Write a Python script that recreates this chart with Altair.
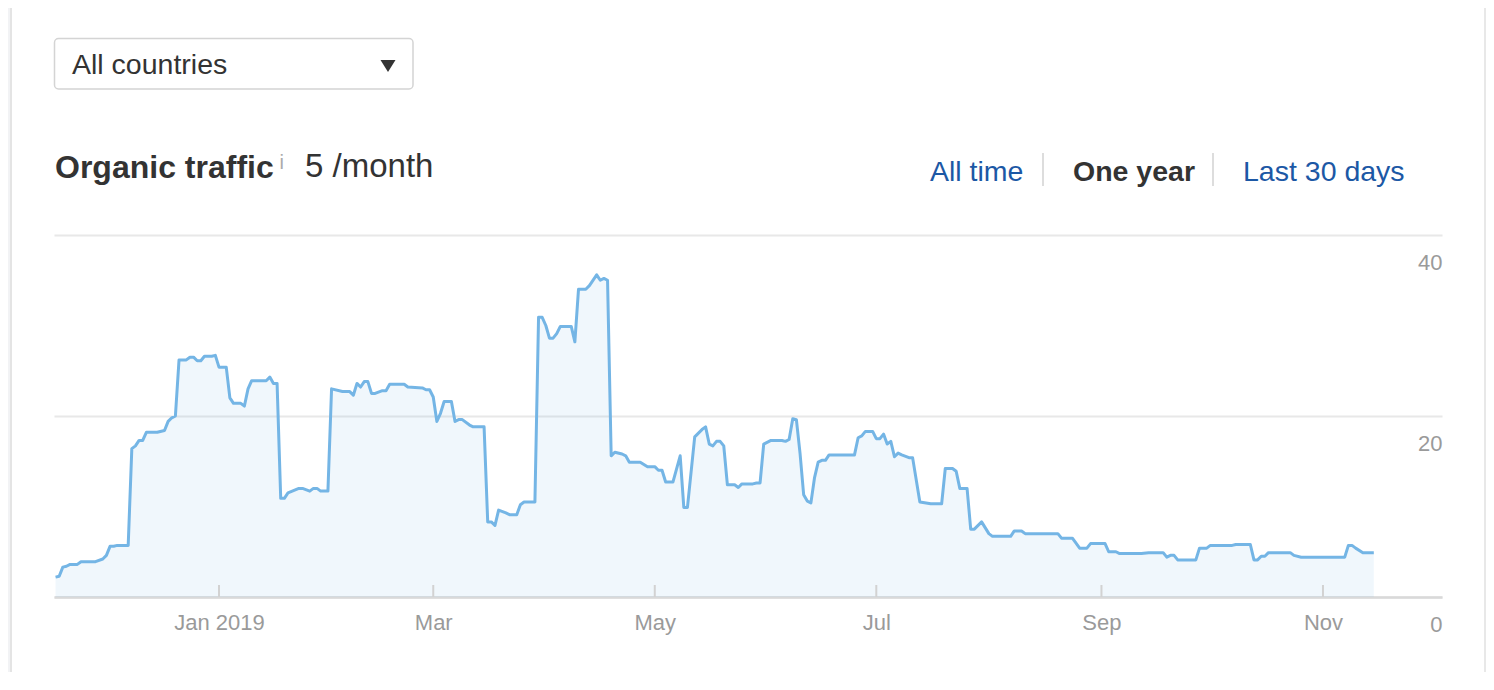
import datetime as dt
import altair as alt
import pandas as pd

# ---- data: day offset from 2019-01-01 and organic traffic ----
DAY = [
    -45, -44, -43, -42, -41, -39, -38, -34, -32, -31,
    -30, -29, -28, -25, -24, -23, -22, -21, -20, -17,
    -15, -14, -13, -12, -11, -9, -8, -7, -6, -5,
    -4, -2, -1, 0, 2, 3, 4, 6, 7, 8,
    9, 13, 14, 15, 16, 17, 18, 19, 22, 23,
    25, 26, 27, 28, 30, 31, 34, 36, 37, 38,
    39, 40, 41, 42, 43, 45, 46, 47, 51, 52,
    56, 57, 58, 59, 60, 61, 62, 64, 65, 66,
    67, 69, 70, 73, 74, 75, 76, 77, 79, 80,
    82, 83, 84, 87, 88, 89, 90, 91, 92, 93,
    94, 97, 98, 99, 101, 102, 104, 105, 106, 107,
    108, 109, 111, 112, 113, 116, 118, 120, 121, 122,
    123, 125, 127, 128, 129, 131, 133, 134, 135, 136,
    137, 138, 139, 140, 142, 143, 144, 147, 148, 149,
    150, 152, 155, 156, 157, 158, 159, 160, 161, 162,
    163, 164, 165, 166, 167, 168, 175, 176, 177, 178,
    180, 181, 182, 183, 184, 185, 186, 187, 188, 190,
    191, 193, 196, 199, 200, 202, 203, 204, 206, 207,
    208, 210, 212, 213, 218, 219, 221, 222, 231, 232,
    235, 237, 239, 240, 244, 245, 247, 248, 254, 256,
    260, 261, 262, 263, 264, 269, 270, 272, 273, 279,
    280, 284, 285, 286, 287, 288, 289, 295, 296, 298,
    310, 311, 312, 313, 315, 318,
]
VALUE = [
    2.2, 2.3, 3.3, 3.4, 3.6, 3.6, 3.9, 3.9, 4.2, 4.6,
    5.6, 5.6, 5.7, 5.7, 16.4, 16.7, 17.3, 17.3, 18.2, 18.2,
    18.4, 19.4, 19.8, 20.0, 26.2, 26.2, 26.5, 26.5, 26.1, 26.1,
    26.6, 26.6, 26.7, 25.4, 25.4, 22.0, 21.4, 21.4, 21.1, 23.0,
    23.9, 23.9, 24.3, 23.6, 23.6, 10.9, 10.9, 11.5, 12.0, 12.0,
    11.7, 12.0, 12.0, 11.7, 11.7, 23.0, 22.7, 22.7, 22.3, 23.6,
    23.2, 23.8, 23.8, 22.5, 22.5, 22.8, 22.8, 23.5, 23.5, 23.2,
    23.1, 22.9, 22.9, 22.1, 19.4, 20.3, 21.6, 21.6, 19.4, 19.6,
    19.6, 19.0, 18.8, 18.8, 8.3, 8.3, 7.9, 9.6, 9.3, 9.1,
    9.1, 10.2, 10.5, 10.5, 30.9, 30.9, 30.0, 28.6, 28.6, 29.1,
    29.9, 29.9, 28.2, 34.0, 34.0, 34.4, 35.6, 35.0, 35.2, 35.0,
    15.6, 16.0, 15.8, 15.6, 14.9, 14.9, 14.4, 14.4, 14.0, 14.0,
    12.7, 12.7, 15.6, 9.9, 9.9, 17.7, 18.5, 18.8, 16.9, 16.7,
    17.2, 17.2, 16.7, 12.4, 12.4, 12.1, 12.5, 12.5, 12.6, 12.6,
    16.9, 17.3, 17.3, 17.2, 17.4, 19.7, 19.6, 15.9, 11.3, 10.6,
    10.4, 13.2, 14.9, 15.1, 15.1, 15.7, 15.7, 17.6, 17.8, 18.3,
    18.3, 17.5, 17.5, 18.0, 16.9, 17.2, 15.5, 15.9, 15.7, 15.4,
    15.4, 10.5, 10.3, 10.3, 14.2, 14.2, 13.9, 12.0, 12.0, 7.5,
    7.5, 8.3, 7.0, 6.7, 6.7, 7.3, 7.3, 7.0, 7.0, 6.5,
    6.5, 5.4, 5.4, 5.9, 5.9, 5.0, 5.0, 4.8, 4.8, 4.9,
    4.9, 4.4, 4.6, 4.6, 4.1, 4.1, 5.4, 5.4, 5.7, 5.7,
    5.8, 5.8, 4.1, 4.1, 4.5, 4.5, 4.9, 4.9, 4.6, 4.4,
    4.4, 5.7, 5.7, 5.4, 4.9, 4.9,
]
assert len(DAY) == len(VALUE)

TICK_DATES = ["2019-01-01", "2019-03-01", "2019-05-01", "2019-07-01", "2019-09-01", "2019-11-01"]
Y_TICKS = [0, 20, 40]

TITLE = "Organic traffic"
INFO = "i"
SUMMARY = "5 /month"
COUNTRY = "All countries"
RANGES = ["All time", "One year", "Last 30 days"]

JAN1 = dt.date(2019, 1, 1)
df = pd.DataFrame({
    "date": [(JAN1 + dt.timedelta(days=d)).isoformat() for d in DAY],
    "traffic": VALUE,
})
ticks_df = pd.DataFrame({"date": TICK_DATES})
one = pd.DataFrame({"k": [0]})

W, H = 1388, 362
FONT = "Liberation Sans"
LINE = "#74b5e5"
TEXT = "#333333"
LINK = "#1c58a5"
AXIS_TXT = "#9a9a9a"


def dtv(s):
    y, m, d = (int(p) for p in s.split("-"))
    return alt.DateTime(year=y, month=m, date=d, utc=True)


x_scale = alt.Scale(
    type="utc",
    domain=[
        alt.DateTime(year=2018, month=11, date=16, hours=13, minutes=40, utc=True),
        alt.DateTime(year=2019, month=12, date=3, hours=18, minutes=43, utc=True),
    ],
)
x_enc = alt.X(
    "date:T",
    scale=x_scale,
    axis=alt.Axis(
        values=[dtv(s) for s in TICK_DATES],
        labelExpr="utcFormat(datum.value, utcmonth(datum.value) == 0 ? '%b %Y' : '%b')",
        labelFont=FONT, labelFontSize=22, labelColor=AXIS_TXT,
        labelPadding=15, ticks=False, grid=False,
        domainColor="#d9d9d9", domainWidth=2.5,
        labelFlush=False, labelOverlap=False, title=None,
    ),
)
y_enc = alt.Y(
    "traffic:Q",
    scale=alt.Scale(domain=[0, 40], nice=False, zero=True),
    axis=alt.Axis(
        orient="right", values=Y_TICKS, grid=True, gridColor="#e8e8e8", gridWidth=2,
        domain=False, ticks=False, labelAlign="right", labelPadding=0,
        labelBaseline="top", labelOffset=17.5,
        labelFont=FONT, labelFontSize=22, labelColor=AXIS_TXT, title=None,
    ),
)

base = alt.Chart(df)
area = base.mark_area(color=LINE, fillOpacity=0.11, interpolate="linear").encode(x=x_enc, y=y_enc)
line = base.mark_line(color=LINE, strokeWidth=3, strokeJoin="round", interpolate="linear").encode(
    x=alt.X("date:T"), y=alt.Y("traffic:Q")
)
tick_marks = alt.Chart(ticks_df).mark_rule(color="#d2d2d2", strokeWidth=2).encode(
    x=alt.X("date:T"), y=alt.value(H - 12), y2=alt.value(H)
)


def text_layer(txt, x, y, size, color, weight="normal", align="left"):
    return alt.Chart(one).mark_text(
        font=FONT, fontSize=size, fontWeight=weight, color=color,
        align=align, baseline="alphabetic",
    ).encode(x=alt.value(x), y=alt.value(y), text=alt.value(txt))


def box(x, x2, y, y2, fill, stroke=None, sw=0, radius=0):
    kw = dict(color=fill, cornerRadius=radius)
    if stroke:
        kw.update(stroke=stroke, strokeWidth=sw)
    return alt.Chart(one).mark_rect(**kw).encode(
        x=alt.value(x), x2=alt.value(x2), y=alt.value(y), y2=alt.value(y2)
    )


BOTTOM = 75
dropdown = box(0.5, 359, -196.5, -146, "#ffffff", "#d4d4d4", 1.5, 4)
triangle = alt.Chart(one).mark_point(
    shape="M -1 -0.8 L 1 -0.8 L 0 0.8 Z", size=225, filled=True, color=TEXT, opacity=1, strokeWidth=0
).encode(x=alt.value(334), y=alt.value(-169))

layers = [
    box(-46, -44, -227, H + BOTTOM, "#f2f3f5"),
    box(-44, -42, -227, H + BOTTOM, "#e4e4e4"),
    box(1430, 1432, -227, H + BOTTOM, "#e8e8e8"),
    dropdown,
    text_layer(COUNTRY, 18, -161, 28.5, TEXT),
    triangle,
    text_layer(TITLE, 1, -57, 32, TEXT, "bold"),
    text_layer(INFO, 227.7, -66, 20, "#aaaaaa", align="center"),
    text_layer(SUMMARY, 251, -58, 33, TEXT),
    text_layer(RANGES[0], 876, -54, 28.5, LINK),
    box(988, 990, -82, -49, "#dddddd"),
    text_layer(RANGES[1], 1019, -54, 28.5, TEXT, "bold"),
    box(1158, 1160, -82, -49, "#dddddd"),
    text_layer(RANGES[2], 1189, -54, 28.5, LINK),
    area,
    line,
    tick_marks,
]

chart = alt.layer(*layers).properties(
    width=W, height=H,
    padding={"left": 46, "top": 227, "right": 44, "bottom": BOTTOM},
    autosize=alt.AutoSizeParams(type="none"),
    background="#ffffff",
).configure_view(strokeWidth=0)

chart.save("out.html", embed_options={"renderer": "svg", "actions": False})
